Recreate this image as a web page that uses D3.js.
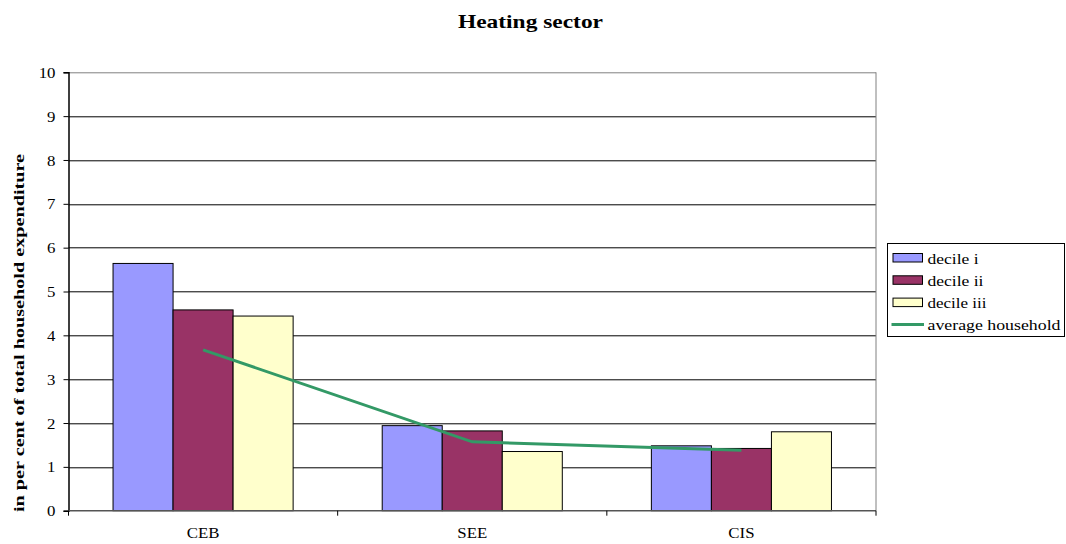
<!DOCTYPE html>
<html>
<head>
<meta charset="utf-8">
<script src="https://cdn.jsdelivr.net/npm/d3@7"></script>
<style>
  html, body { margin: 0; padding: 0; background: #fff; }
  svg { display: block; }
</style>
</head>
<body>
<svg id="chart" width="1066" height="544"></svg>
<script>
// Regions and series (per cent of total household expenditure)
const regions = ["CEB", "SEE", "CIS"];
const seriesNames = ["decile i", "decile ii", "decile iii"];
const decileI = [5.64, 1.94, 1.48];
const decileII = [4.58, 1.82, 1.42];
const decileIII = [4.44, 1.35, 1.80];
const averageHousehold = [3.67, 1.57, 1.38];
const yTicks = [0, 1, 2, 3, 4, 5, 6, 7, 8, 9, 10];
const lineName = "average household";
const titleText = "Heating sector";
const yTitleText = "in per cent of total household expenditure";

const colors = ["#9999FF", "#993366", "#FFFFCC"];
const lineColor = "#339966";
const serif = "'Liberation Serif', 'Times New Roman', Times, serif";
const WIDEN = 1.2; // horizontal stretch of the type

const svg = d3.select("#chart");

// Apply the serif face and widen glyphs horizontally to a set length
function styleText(sel, size, weight, length) {
  sel.style("font-family", serif)
     .style("font-size", size + "px")
     .style("font-weight", weight || "normal")
     .attr("fill", "#000");
  sel.each(function () {
    const natural = this.getComputedTextLength();
    const L = length != null ? length : natural * WIDEN;
    d3.select(this).attr("textLength", L).attr("lengthAdjust", "spacingAndGlyphs");
  });
  return sel;
}

const margin = { left: 68.5, top: 72.3 };
const plotW = 876 - margin.left;
const plotH = 510.7 - margin.top;

const g = svg.append("g").attr("transform", `translate(${margin.left},${margin.top})`);

const x = d3.scaleBand().domain(regions).range([0, plotW]).paddingInner(0).paddingOuter(0);
const xInner = d3.scaleBand().domain(seriesNames).range([0, x.bandwidth()])
  .paddingInner(0).paddingOuter(0.742);
const y = d3.scaleLinear().domain([0, 10]).range([plotH, 0]);

// Horizontal gridlines
g.append("g").selectAll("line")
  .data(yTicks.filter(t => t > 0 && t < 10))
  .join("line")
  .attr("x1", 0).attr("x2", plotW)
  .attr("y1", d => Math.round(y(d)) + 0.5).attr("y2", d => Math.round(y(d)) + 0.5)
  .attr("stroke", "#000").attr("stroke-width", 1);

// Plot frame top and right
g.append("line").attr("x1", 0).attr("x2", plotW).attr("y1", 0.5).attr("y2", 0.5)
  .attr("stroke", "#808080").attr("stroke-width", 1);
g.append("line").attr("x1", plotW).attr("x2", plotW).attr("y1", 0).attr("y2", plotH)
  .attr("stroke", "#808080").attr("stroke-width", 1);

// Bars
const series = [decileI, decileII, decileIII];
series.forEach((vals, si) => {
  g.append("g").selectAll("rect")
    .data(regions.map((r, i) => ({ r, v: vals[i] })))
    .join("rect")
    .attr("x", d => x(d.r) + xInner(seriesNames[si]))
    .attr("y", d => y(d.v))
    .attr("width", xInner.bandwidth())
    .attr("height", d => plotH - y(d.v))
    .attr("fill", colors[si])
    .attr("stroke", "#000")
    .attr("stroke-width", 1);
});

// Average household line
const line = d3.line()
  .x((d, i) => x(regions[i]) + x.bandwidth() / 2)
  .y(d => y(d));
g.append("path")
  .datum(averageHousehold)
  .attr("d", line)
  .attr("fill", "none")
  .attr("stroke", lineColor)
  .attr("stroke-width", 3);

// Y axis
const yAxis = d3.axisLeft(y).tickValues(yTicks).tickSize(5).tickPadding(8).tickFormat(d3.format("d"));
const yg = g.append("g").call(yAxis);
yg.select(".domain").attr("stroke", "#000").attr("stroke-width", 1.5);
yg.selectAll(".tick line").attr("stroke", "#000");
yg.selectAll(".tick text").attr("dy", "0.36em");
styleText(yg.selectAll(".tick text"), 14, "normal");

// X axis: ticks at category boundaries
const xg = g.append("g").attr("transform", `translate(0,${plotH})`);
xg.append("line").attr("x1", 0).attr("x2", plotW).attr("y1", 0).attr("y2", 0)
  .attr("stroke", "#555").attr("stroke-width", 1.5);
const boundaries = regions.map(r => x(r)).concat([plotW]);
xg.selectAll("line.tk").data(boundaries).join("line").attr("class", "tk")
  .attr("x1", d => d).attr("x2", d => d).attr("y1", 0).attr("y2", 5)
  .attr("stroke", "#000").attr("stroke-width", 1);
const xLabels = xg.selectAll("text").data(regions).join("text")
  .attr("x", d => x(d) + x.bandwidth() / 2)
  .attr("y", 27.5)
  .attr("text-anchor", "middle")
  .text(d => d);
styleText(xLabels, 14, "normal");

// Title
const title = svg.append("text").attr("x", 530.5).attr("y", 28).attr("text-anchor", "middle")
  .text(titleText);
styleText(title, 19, "bold", 145);

// Y axis title
const yTitle = svg.append("text")
  .attr("transform", "translate(24,333) rotate(-90)")
  .attr("text-anchor", "middle")
  .text(yTitleText);
styleText(yTitle, 14, "bold", 358);

// Legend
const lg = svg.append("g").attr("transform", "translate(887.5,243.5)");
lg.append("rect").attr("width", 177).attr("height", 93)
  .attr("fill", "#fff").attr("stroke", "#000").attr("stroke-width", 1);
const items = seriesNames.map((n, i) => ({ n, c: colors[i], type: "rect", w: [51, 56, 59][i] }))
  .concat([{ n: lineName, c: lineColor, type: "line", w: 133 }]);
items.forEach((it, i) => {
  const cy = 14.5 + i * 22.3;
  if (it.type === "rect") {
    lg.append("rect").attr("x", 5.5).attr("y", cy - 4.5).attr("width", 29.5).attr("height", 8.5)
      .attr("fill", it.c).attr("stroke", "#000").attr("stroke-width", 1);
  } else {
    lg.append("line").attr("x1", 4).attr("x2", 36.5).attr("y1", cy - 0.5).attr("y2", cy - 0.5)
      .attr("stroke", it.c).attr("stroke-width", 3);
  }
  const t = lg.append("text").attr("x", 40).attr("y", cy + 5.5).text(it.n);
  styleText(t, 15, "normal", it.w);
});
</script>
</body>
</html>
